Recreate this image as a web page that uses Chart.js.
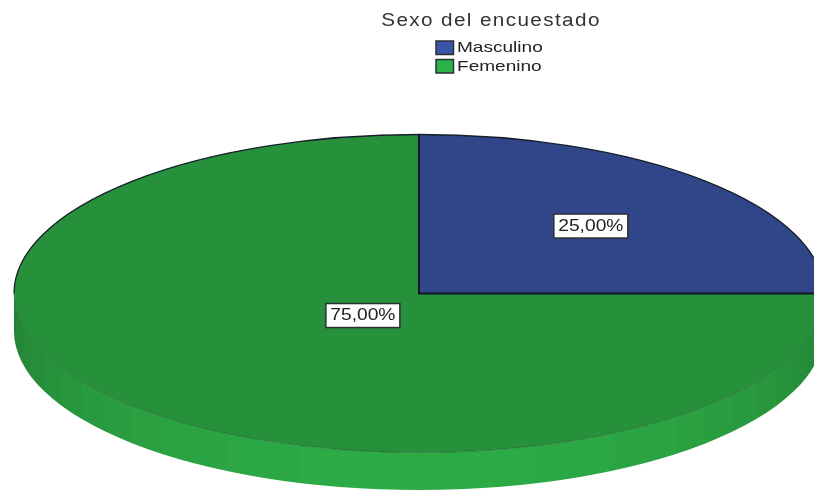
<!DOCTYPE html>
<html>
<head>
<meta charset="utf-8">
<style>
  html, body { margin: 0; background: #fff; }
  canvas { display: block; }
</style>
<script src="https://cdn.jsdelivr.net/npm/chart.js@4/dist/chart.umd.min.js"></script>
</head>
<body>
<canvas id="pieChart" width="814" height="491"></canvas>
<script>
const titleText = "Sexo del encuestado";
const categories = ["Masculino", "Femenino"];
const percentages = [25, 75];

const sliceColors = ["#304689", "#27903b"];
const legendColors = ["#3a55a8", "#2cb04a"];
// where the label sits along the slice's mid radius
const labelOffsets = [0.6, 0.196];

// tilted pie, chart.js only draws circles so the arcs get squashed
const pie = { cx: 419, cy: 293.5, rx: 405, ry: 159, depth: 37.5 };

function arcPoint(angle) {
    return [pie.cx + pie.rx * Math.cos(angle), pie.cy + pie.ry * Math.sin(angle)];
}

function drawWall(ctx) {
    const grad = ctx.createLinearGradient(pie.cx - pie.rx, 0, pie.cx + pie.rx, 0);
    const bands = 32;
    for (let i = 0; i < bands; i++) {
        const a0 = Math.PI * i / bands;
        const a1 = Math.PI * (i + 1) / bands;
        const shade = Math.sin((a0 + a1) / 2);
        const r = Math.round(35 + 9 * shade);
        const g = Math.round(128 + 43 * shade);
        const b = Math.round(52 + 18 * shade);
        const color = "rgb(" + r + "," + g + "," + b + ")";
        grad.addColorStop((1 - Math.cos(a0)) / 2, color);
        grad.addColorStop((1 - Math.cos(a1)) / 2, color);
    }
    ctx.beginPath();
    ctx.ellipse(pie.cx, pie.cy + pie.depth, pie.rx, pie.ry, 0, 0, Math.PI);
    ctx.ellipse(pie.cx, pie.cy, pie.rx, pie.ry, 0, Math.PI, 0, true);
    ctx.closePath();
    ctx.fillStyle = grad;
    ctx.fill();
}

function drawOutlines(ctx, arcs) {
    // faint seam between the top face and the wall
    ctx.beginPath();
    ctx.ellipse(pie.cx, pie.cy, pie.rx, pie.ry, 0, 0, Math.PI);
    ctx.strokeStyle = "rgba(10,60,25,0.4)";
    ctx.lineWidth = 1;
    ctx.stroke();

    ctx.beginPath();
    ctx.ellipse(pie.cx, pie.cy, pie.rx, pie.ry, 0, Math.PI, Math.PI * 2);
    ctx.strokeStyle = "#16202c";
    ctx.lineWidth = 1.3;
    ctx.stroke();

    // edges of the first slice
    const first = arcs[0];
    const start = arcPoint(first.startAngle);
    const end = arcPoint(first.endAngle);
    ctx.beginPath();
    ctx.moveTo(start[0], start[1]);
    ctx.lineTo(pie.cx, pie.cy);
    ctx.lineTo(end[0], end[1]);
    ctx.strokeStyle = "#101828";
    ctx.lineWidth = 2;
    ctx.stroke();
}

// the reference text is stretched sideways
function stretchedText(ctx, text, x, y, stretch) {
    ctx.save();
    ctx.translate(x, y);
    ctx.scale(stretch, 1);
    ctx.fillText(text, 0, 0);
    ctx.restore();
}

function drawLabels(ctx, arcs) {
    arcs.forEach(function (arc, i) {
        const mid = (arc.startAngle + arc.endAngle) / 2;
        const x = pie.cx + pie.rx * labelOffsets[i] * Math.cos(mid);
        const y = pie.cy + pie.ry * labelOffsets[i] * Math.sin(mid);
        ctx.fillStyle = "#fff";
        ctx.strokeStyle = "#2b3036";
        ctx.lineWidth = 1.5;
        ctx.fillRect(x - 37, y - 12, 74, 24);
        ctx.strokeRect(x - 37, y - 12, 74, 24);
        ctx.font = "16px 'Liberation Sans'";
        ctx.fillStyle = "#222";
        ctx.textAlign = "center";
        ctx.textBaseline = "middle";
        stretchedText(ctx, percentages[i].toFixed(2).replace(".", ",") + "%", x, y + 0.5, 1.2);
    });
}

function drawLegend(ctx) {
    categories.forEach(function (name, i) {
        const y = 41 + i * 18.5;
        ctx.fillStyle = legendColors[i];
        ctx.strokeStyle = "#2b3036";
        ctx.lineWidth = 1.5;
        ctx.fillRect(436, y, 17.5, 13.5);
        ctx.strokeRect(436, y, 17.5, 13.5);
        ctx.font = "15px 'Liberation Sans'";
        ctx.fillStyle = "#222";
        ctx.textAlign = "left";
        ctx.textBaseline = "middle";
        stretchedText(ctx, name, 457, 48 + i * 19, 1.27);
    });
}

const tiltedPie = {
    id: "tiltedPie",
    afterLayout(chart) {
        // title is centred over the legend, not over the pie
        chart.titleBlock.left = 383;
        chart.titleBlock.right = 599;
    },
    beforeDraw(chart) {
        // only the title is drawn between here and beforeDatasetsDraw
        const ctx = chart.ctx;
        ctx.save();
        ctx.letterSpacing = "1.2px";
        ctx.translate(491, 0);
        ctx.scale(1.15, 1);
        ctx.translate(-491, 0);
    },
    beforeDatasetsDraw(chart) {
        const ctx = chart.ctx;
        ctx.restore();
        const arc = chart.getDatasetMeta(0).data[0];
        drawWall(ctx);
        ctx.save();
        ctx.translate(pie.cx, pie.cy);
        ctx.scale(pie.rx / arc.outerRadius, pie.ry / arc.outerRadius);
        ctx.translate(-arc.x, -arc.y);
    },
    afterDatasetsDraw(chart) {
        const ctx = chart.ctx;
        ctx.restore();
        const arcs = chart.getDatasetMeta(0).data;
        ctx.save();
        drawOutlines(ctx, arcs);
        drawLabels(ctx, arcs);
        drawLegend(ctx);
        ctx.restore();
    }
};

new Chart(document.getElementById("pieChart"), {
    type: "pie",
    data: {
        labels: categories,
        datasets: [{
            data: percentages,
            backgroundColor: sliceColors,
            borderWidth: 0,
            clip: false
        }]
    },
    options: {
        responsive: false,
        animation: false,
        events: [],
        rotation: 0,
        plugins: {
            legend: { display: false },
            tooltip: { enabled: false },
            title: {
                display: true,
                text: titleText,
                color: "#333",
                font: { family: "'Liberation Sans'", size: 18, weight: "normal" },
                padding: { top: 10, bottom: 10 }
            }
        }
    },
    plugins: [tiltedPie]
});
</script>
</body>
</html>
